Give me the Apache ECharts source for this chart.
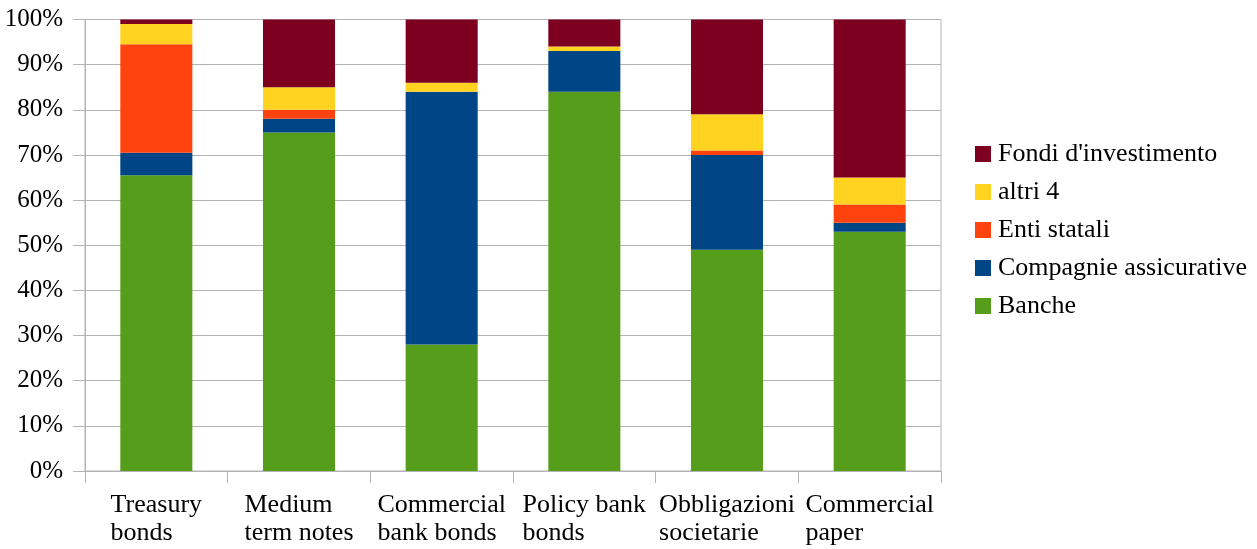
<!DOCTYPE html>
<html>
<head>
<meta charset="utf-8">
<script src="https://cdn.jsdelivr.net/npm/echarts@6/dist/echarts.min.js"></script>
<style>
  html, body { margin: 0; padding: 0; background: #ffffff; }
  #chart { width: 1257px; height: 549px; }
</style>
</head>
<body>
<div id="chart"></div>
<script>
// Categories of securities (line break = wrapped label)
const categories = [
  'Treasury\nbonds',
  'Medium\nterm notes',
  'Commercial\nbank bonds',
  'Policy bank\nbonds',
  'Obbligazioni\nsocietarie',
  'Commercial\npaper'
];

// Share of each holder type, percent per category
const banche     = [65.5, 75, 28, 84, 49, 53];
const compagnie  = [5,    3, 56,  9, 21,  2];
const enti       = [24,   2,  0,  0,  1,  4];
const altri      = [4.5,  5,  2,  1,  8,  6];
const fondi      = [1,   15, 14,  6, 21, 35];

const seriesNames = ['Banche', 'Compagnie assicurative', 'Enti statali', 'altri 4', "Fondi d'investimento"];
const seriesData  = [banche, compagnie, enti, altri, fondi];
const colors      = ['#579d1c', '#004586', '#ff420e', '#ffd320', '#7e0021'];

const FONT = 'Liberation Serif';

const chart = echarts.init(document.getElementById('chart'), null, { renderer: 'canvas' });

chart.setOption({
  animation: false,
  backgroundColor: '#ffffff',
  color: colors,
  textStyle: { fontFamily: FONT, color: '#000000' },
  grid: {
    left: 85, right: 316, top: 19.5, bottom: 78,
    show: true, borderColor: '#b3b3b3', borderWidth: 1, backgroundColor: 'transparent'
  },
  legend: {
    orient: 'vertical',
    left: 970,
    top: 136,
    itemWidth: 16,
    itemHeight: 16,
    itemGap: 12,
    icon: 'rect',
    data: seriesNames.slice().reverse(),
    textStyle: { fontFamily: FONT, fontSize: 26, lineHeight: 26, color: '#000000', padding: [0, 0, 0, 2] }
  },
  xAxis: {
    type: 'category',
    data: categories,
    axisLine: { lineStyle: { color: '#b3b3b3', width: 1 } },
    axisTick: { show: true, interval: 0, length: 12, lineStyle: { color: '#b3b3b3' } },
    axisLabel: {
      interval: 0,
      margin: 20,
      fontFamily: FONT,
      fontSize: 26,
      lineHeight: 28,
      color: '#000000',
      formatter: v => v.split('\n').map(s => '{a|' + s + '}').join('\n'),
      rich: { a: { align: 'left', fontFamily: FONT, fontSize: 26, lineHeight: 28, color: '#000000' } }
    }
  },
  yAxis: {
    type: 'value',
    min: 0, max: 100, interval: 10,
    axisLine: { show: true, lineStyle: { color: '#b3b3b3', width: 1 } },
    axisTick: { show: true, length: 12, lineStyle: { color: '#b3b3b3' } },
    splitLine: { show: true, lineStyle: { color: '#b3b3b3', width: 1 } },
    axisLabel: {
      margin: 22,
      fontFamily: FONT,
      fontSize: 25,
      color: '#000000',
      formatter: '{value}%'
    }
  },
  series: seriesNames.map((name, i) => ({
    name: name,
    type: 'bar',
    stack: 'total',
    barWidth: '50.5%',
    data: seriesData[i],
    itemStyle: { color: colors[i] }
  }))
});
</script>
</body>
</html>
